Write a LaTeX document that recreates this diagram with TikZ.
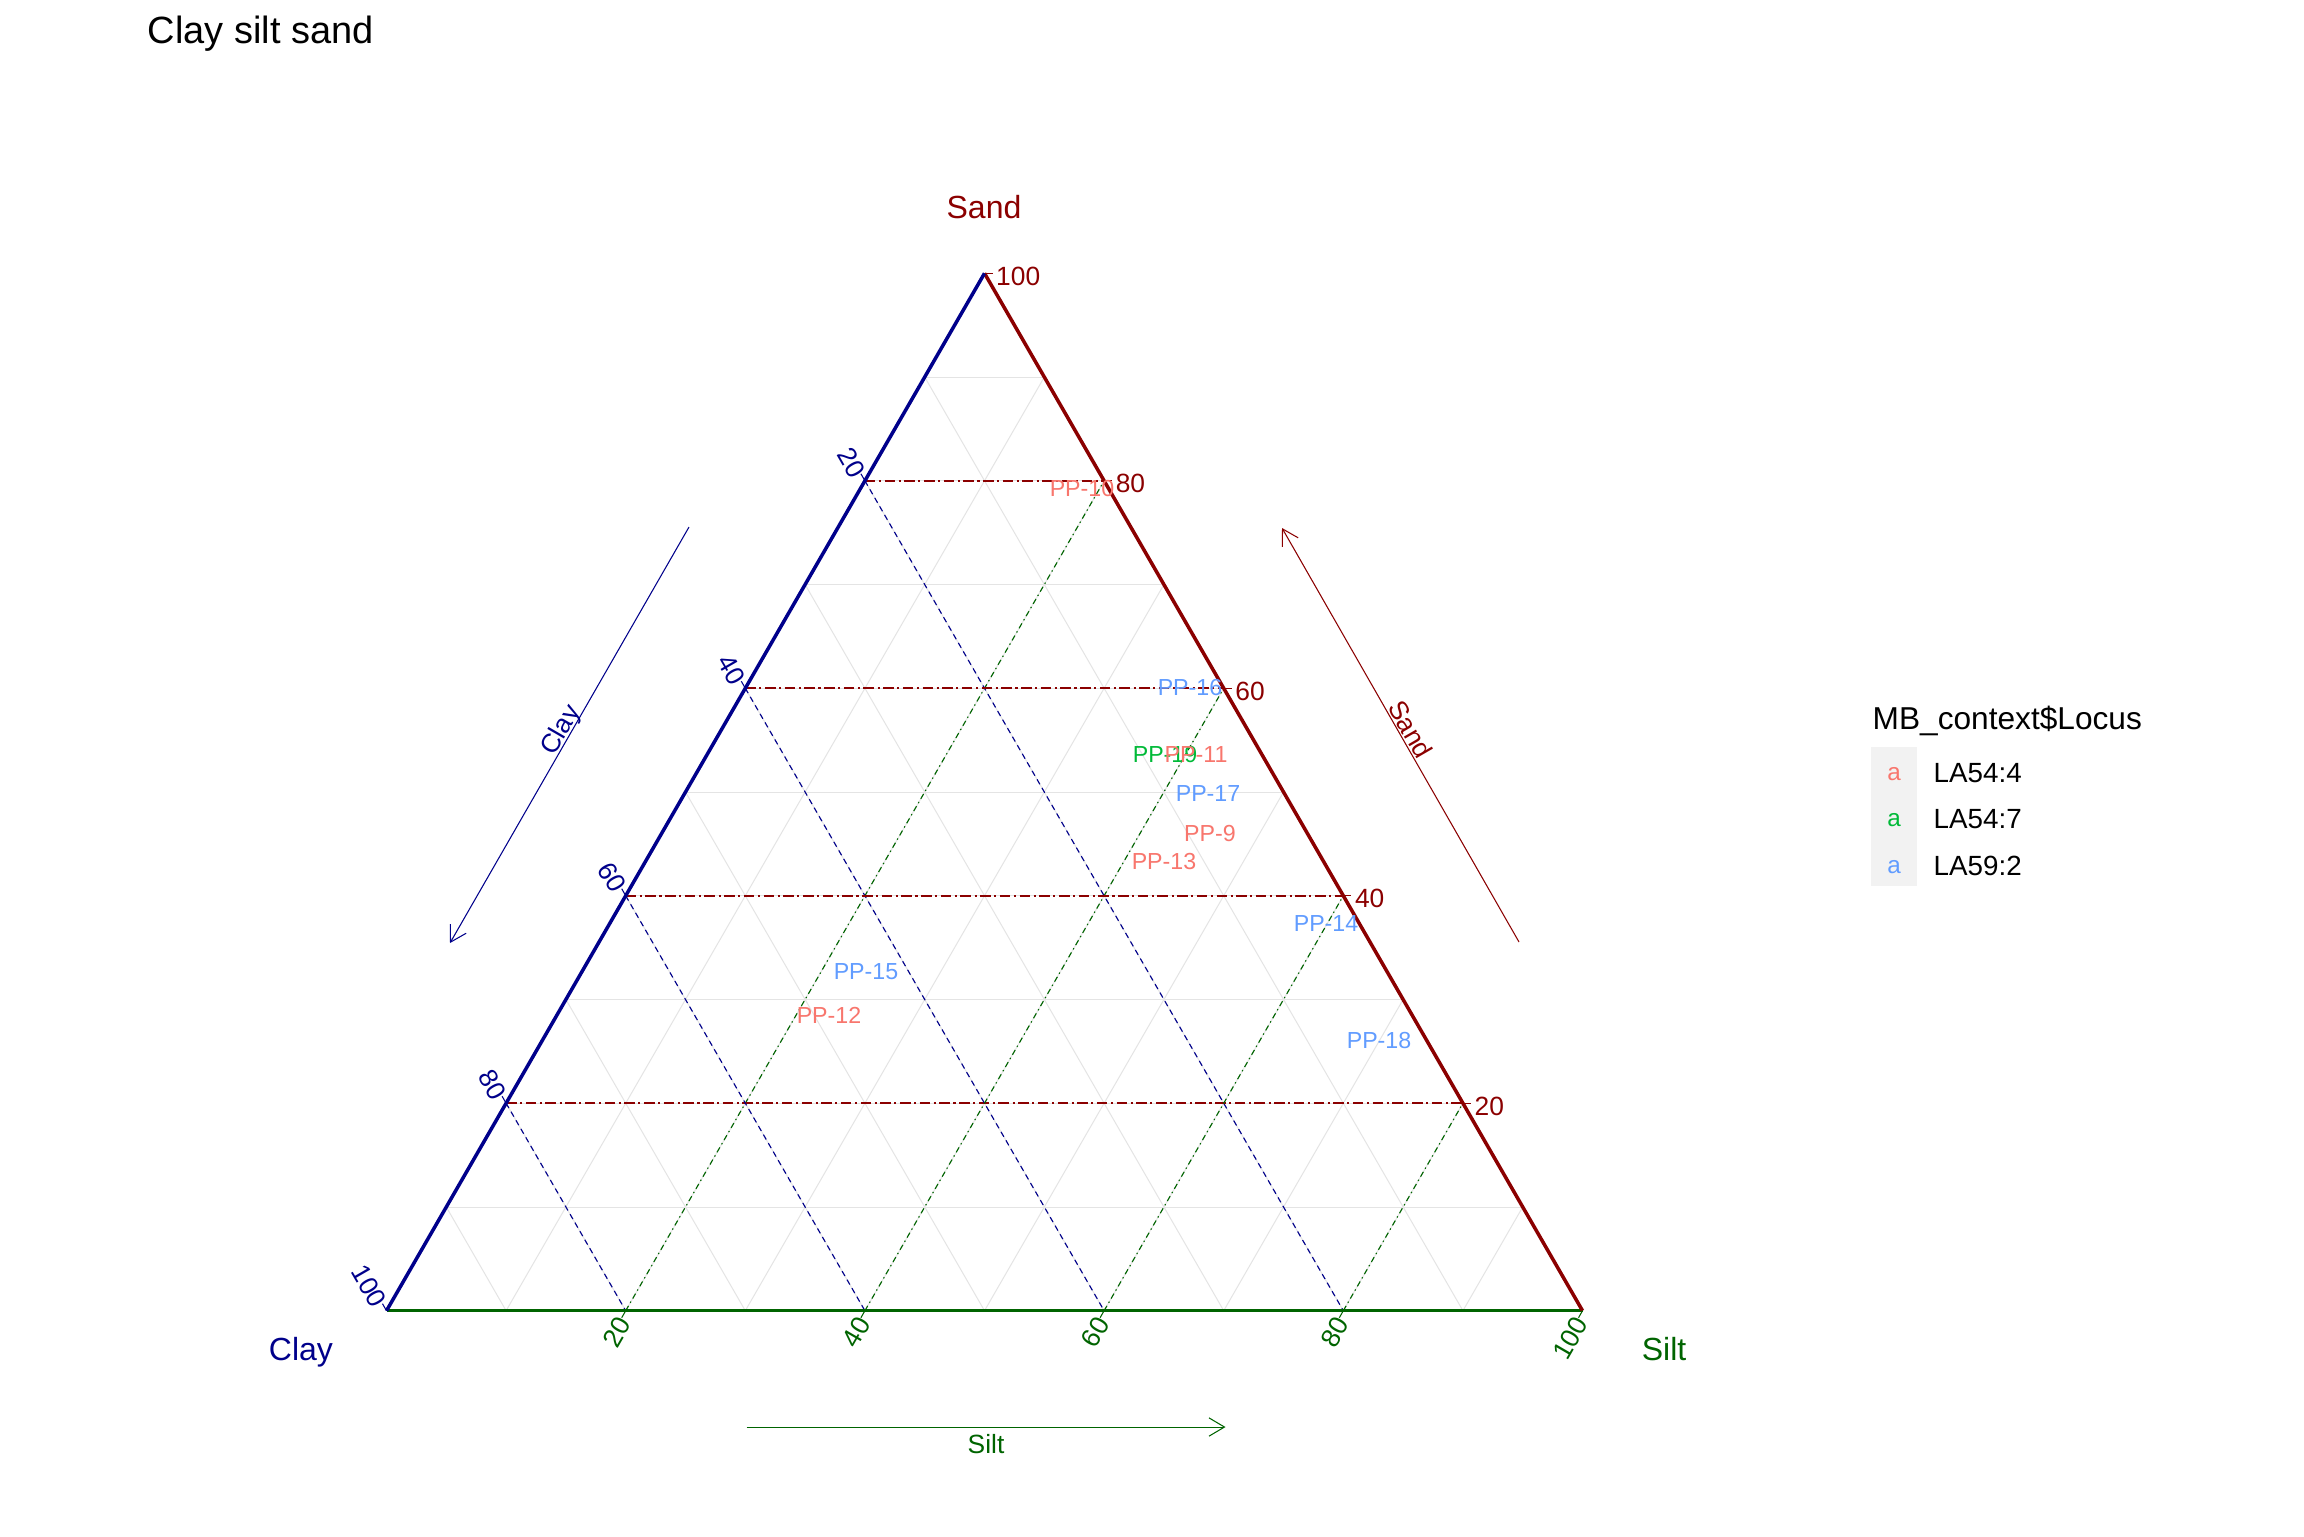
\documentclass[tikz,border=0pt]{standalone}
\usepackage{fontspec}
\setmainfont{Liberation Sans}
\usetikzlibrary{arrows.meta,calc}
\definecolor{sandc}{RGB}{139,0,0}
\definecolor{clayc}{RGB}{0,0,139}
\definecolor{siltc}{RGB}{0,100,0}
\definecolor{gridc}{RGB}{228,228,228}
\definecolor{pred}{HTML}{F8766D}
\definecolor{pgreen}{HTML}{00BA38}
\definecolor{pblue}{HTML}{619CFF}
\definecolor{keybg}{RGB}{242,242,242}
\begin{document}
\begin{tikzpicture}[x=0.01cm,y=-0.01cm,
  gridline/.style={draw=gridc,line width=0.28pt},
  sandmaj/.style={draw=sandc,line width=0.5pt,dash pattern=on 3pt off 1pt on 0.6pt off 1pt},
  claymaj/.style={draw=clayc,line width=0.32pt,dash pattern=on 1.6pt off 1.2pt},
  siltmaj/.style={draw=siltc,line width=0.32pt,dash pattern=on 1.6pt off 1pt on 0.4pt off 1pt},
  edgeline/.style={line width=1pt},
  tickline/.style={line width=0.3pt},
  ticklab/.style={font=\fontsize{7.5}{9}\selectfont,inner sep=0pt},
  axlab/.style={font=\fontsize{9.1}{11}\selectfont,inner sep=0pt,anchor=base},
  arrlab/.style={font=\fontsize{7.5}{9}\selectfont,inner sep=0pt},
  arr/.style={line width=0.3pt,-{Straight Barb[length=4.4pt,width=5.2pt]}},
  pp/.style={font=\fontsize{6.6}{8}\selectfont,inner sep=0pt},
  legtitle/.style={font=\fontsize{9}{11}\selectfont,inner sep=0pt,anchor=base west},
  legitem/.style={font=\fontsize{7.9}{9.5}\selectfont,inner sep=0pt,anchor=base west},
  legkey/.style={font=\fontsize{6.9}{8}\selectfont,inner sep=0pt,anchor=base}]
\useasboundingbox (0,0) rectangle (2304,1536);
\fill[white] (0,0) rectangle (2304,1536);
\coordinate (A) at (386.5,1310.7);
\coordinate (B) at (1582.5,1310.7);
\coordinate (C) at (984.5,273.3);
% title
\node[font=\fontsize{10.8}{13}\selectfont,inner sep=0pt,anchor=base west] (title) at (147,43) {Clay silt sand};
% minor grid
\foreach \k in {1,...,9}{
  \pgfmathsetmacro\kk{\k/10}\pgfmathsetmacro\mm{1-\k/10}
  \draw[gridline] (barycentric cs:A=\mm,C=\kk) -- (barycentric cs:B=\mm,C=\kk);
  \draw[gridline] (barycentric cs:A=\kk,C=\mm) -- (barycentric cs:A=\kk,B=\mm);
  \draw[gridline] (barycentric cs:B=\kk,A=\mm) -- (barycentric cs:B=\kk,C=\mm);
}
% major grid
\foreach \k in {2,4,6,8}{
  \pgfmathsetmacro\kk{\k/10}\pgfmathsetmacro\mm{1-\k/10}
  \draw[claymaj] (barycentric cs:A=\kk,C=\mm) -- (barycentric cs:A=\kk,B=\mm);
  \draw[siltmaj] (barycentric cs:B=\kk,A=\mm) -- (barycentric cs:B=\kk,C=\mm);
  \draw[sandmaj] (barycentric cs:A=\mm,C=\kk) -- (barycentric cs:B=\mm,C=\kk);
}
% edges
\draw[edgeline,draw=siltc] (A) -- (B);
\draw[edgeline,draw=sandc] (B) -- (C);
\draw[edgeline,draw=clayc] (C) -- (A);
% ticks and tick labels
\foreach \k in {2,4,6,8,10}{
  \pgfmathsetmacro\kk{\k/10}\pgfmathsetmacro\mm{1-\k/10}
  \pgfmathtruncatemacro\lab{\k*10}
  \coordinate (sp\k) at (barycentric cs:B=\mm,C=\kk);
  \coordinate (cp\k) at (barycentric cs:A=\kk,C=\mm);
  \coordinate (tp\k) at (barycentric cs:A=\mm,B=\kk);
  \draw[tickline,draw=sandc] (sp\k) -- ++(8,0);
  \draw[tickline,draw=clayc] (cp\k) -- ++(-4,-7);
  \draw[tickline,draw=siltc] (tp\k) -- ++(-4,7);
  \node[ticklab,text=sandc,anchor=west] (sl\k) at ($(sp\k)+(11,3)$) {\lab};
  \node[ticklab,text=clayc,rotate=-60,anchor=east] (cl\k) at ($(cp\k)+(-6,-5)$) {\lab};
  \node[ticklab,text=siltc,rotate=60,anchor=east] (tl\k) at ($(tp\k)+(-1,8)$) {\lab};
}
% vertex labels
\node[axlab,text=sandc] (sandlab) at (984,218) {Sand};
\node[axlab,text=clayc] (claylab) at (301,1360) {Clay};
\node[axlab,text=siltc] (siltlab) at (1664,1360) {Silt};
% axis arrows
\coordinate (ca1) at (689,527);
\coordinate (ca2) at (450,943);
\draw[arr,draw=clayc] (ca1) -- (ca2);
\node[arrlab,text=clayc,rotate=60,anchor=base] (clayarr) at ($(ca1)!0.5!(ca2)+(-2,-1)$) {Clay};
\coordinate (sa1) at (1519,942);
\coordinate (sa2) at (1282,528);
\draw[arr,draw=sandc] (sa1) -- (sa2);
\node[arrlab,text=sandc,rotate=-60,anchor=base] (sandarr) at ($(sa1)!0.5!(sa2)+(2,-1)$) {Sand};
\coordinate (ta1) at (746.5,1427);
\coordinate (ta2) at (1225.5,1427);
\draw[arr,draw=siltc] (ta1) -- (ta2);
\node[arrlab,text=siltc,anchor=north] (siltarr) at ($(ta1)!0.5!(ta2)+(0,7)$) {Silt};
% point labels
\foreach \x/\y/\c/\t [count=\i] in {1082/488/pred/PP-10,1190/687/pblue/PP-16,1165/754/pgreen/PP-19,1196/754/pred/PP-11,1208/793/pblue/PP-17,1210/833/pred/PP-9,1164/861/pred/PP-13,1326/923/pblue/PP-14,1379/1040/pblue/PP-18,866/972/pblue/PP-15,829/1015/pred/PP-12}{
  \node[pp,text=\c] (pp\i) at (\x,\y) {\t};
}
% legend
\node[legtitle] (legt) at (1872,729) {MB\_context\$Locus};
\fill[keybg] (1871,747) rectangle (1917,886);
\node[legkey,text=pred] (k1) at (1894,780) {a};
\node[legkey,text=pgreen] (k2) at (1894,826) {a};
\node[legkey,text=pblue] (k3) at (1894,873) {a};
\node[legitem] (l1) at (1933,782) {LA54:4};
\node[legitem] (l2) at (1933,828) {LA54:7};
\node[legitem] (l3) at (1933,875) {LA59:2};
\end{tikzpicture}
\end{document}
